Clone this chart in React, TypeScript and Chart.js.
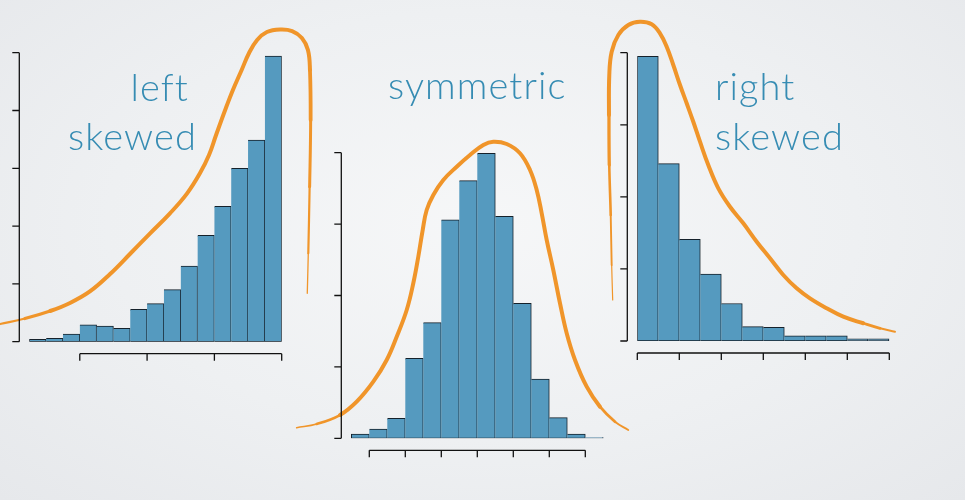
import React, { useEffect, useRef } from "react";
import { Chart, registerables } from "chart.js";

Chart.register(...registerables);

// ---------- Left skewed histogram ----------
const leftBinWidth = 0.05;
const leftBinMids = [0.275, 0.325, 0.375, 0.425, 0.475, 0.525, 0.575, 0.625, 0.675, 0.725, 0.775, 0.825, 0.875, 0.925, 0.975];
const leftCounts = [4, 6, 13, 29, 27, 23, 56, 66, 90, 131, 184, 234, 300, 349, 494];
const leftXTicks = [0.4, 0.6, 0.8, 1.0];
const leftYTicks = [0, 100, 200, 300, 400, 500];
const leftCurveX = [0.163, 0.237, 0.312, 0.371, 0.43, 0.49, 0.549, 0.609, 0.668, 0.719, 0.757, 0.784, 0.805, 0.832, 0.855, 0.881, 0.903, 0.927, 0.956, 0.995, 1.031, 1.06, 1.078, 1.084, 1.086, 1.083, 1.079, 1.076];
const leftCurveY = [30.6, 40.1, 53.1, 67.0, 86.9, 117.1, 151.7, 187.5, 222.1, 256.7, 291.3, 323.0, 357.6, 400.9, 435.5, 470.1, 499.5, 522.0, 535.8, 540.1, 537.5, 525.4, 504.7, 470.1, 383.6, 268.2, 152.9, 83.7];

// ---------- Symmetric histogram ----------
const midBinWidth = 0.5;
const midBinMids = [-3.25, -2.75, -2.25, -1.75, -1.25, -0.75, -0.25, 0.25, 0.75, 1.25, 1.75, 2.25, 2.75, 3.25];
const midCounts = [6, 13, 28, 112, 162, 306, 361, 399, 311, 189, 83, 29, 6, 1];
const midXTicks = [-3, -2, -1, 0, 1, 2, 3];
const midYTicks = [0, 100, 200, 300, 400];
const midCurveX = [-5.017, -4.461, -3.814, -3.35, -2.889, -2.517, -2.239, -1.961, -1.778, -1.639, -1.517, -1.406, -1.222, -0.944, -0.572, -0.203, 0.167, 0.444, 0.817, 1.186, 1.464, 1.65, 1.789, 1.928, 2.111, 2.297, 2.483, 2.714, 3.039, 3.408, 3.825, 4.194];
const midCurveY = [14.8, 20.0, 32.6, 51.3, 79.3, 109.7, 142.3, 179.7, 217.1, 254.3, 291.7, 319.7, 340.8, 361.8, 380.4, 396.8, 410.8, 415.4, 412.2, 399.2, 375.8, 347.8, 315.1, 277.7, 235.7, 189.1, 147.1, 109.7, 72.3, 44.3, 23.2, 11.6];

// ---------- Right skewed histogram ----------
const rightBinWidth = 0.5;
const rightBinMids = [0.25, 0.75, 1.25, 1.75, 2.25, 2.75, 3.25, 3.75, 4.25, 4.75, 5.25, 5.75];
const rightCounts = [395, 246, 141, 93, 52, 20, 19, 7, 7, 7, 3, 3];
const rightXTicks = [0, 1, 2, 3, 4, 5, 6];
const rightYTicks = [0, 100, 200, 300, 400];
const rightCurveX = [-0.586, -0.61, -0.633, -0.667, -0.674, -0.667, -0.61, -0.452, -0.214, 0.064, 0.343, 0.54, 0.7, 0.857, 1.017, 1.176, 1.333, 1.493, 1.69, 1.929, 2.207, 2.524, 2.843, 3.16, 3.476, 3.795, 4.112, 4.51, 4.905, 5.381, 5.779, 6.136];
const rightCurveY = [56.9, 105.4, 174.8, 244.2, 313.5, 369.0, 401.4, 424.5, 438.4, 443.0, 439.4, 426.9, 408.3, 382.9, 355.2, 329.8, 304.2, 276.5, 244.2, 211.8, 186.3, 163.3, 137.8, 114.7, 91.6, 73.1, 59.2, 45.4, 33.7, 24.6, 17.6, 12.9];

// ---------- Labels ----------
const labels = [
  { text: "left", x: 189, y: 101, anchor: "end" },
  { text: "skewed", x: 197, y: 150, anchor: "end" },
  { text: "symmetric", x: 388, y: 98.5, anchor: "start" },
  { text: "right", x: 715, y: 100, anchor: "start" },
  { text: "skewed", x: 715, y: 150, anchor: "start" },
];

const BAR_FILL = "#559abf";
const BAR_EDGE = "#15212b";
const CURVE = "#f0952a";
const AXIS = "#111111";
const TEXT = "#368cb3";

const rAxesPlugin = {
  id: "rAxes",
  afterDraw(chart: any, _args: any, opts: any) {
    const { ctx, chartArea } = chart;
    const xs = chart.scales.x;
    const ys = chart.scales.y;
    const ax = xs.getPixelForValue(opts.xStart) - opts.yGap;
    const ay = chartArea.bottom + opts.xGap;
    ctx.save();
    ctx.strokeStyle = AXIS;
    ctx.lineWidth = 1.3;
    ctx.beginPath();
    const yp = opts.yTicks.map((v: number) => ys.getPixelForValue(v));
    ctx.moveTo(ax, Math.min(...yp));
    ctx.lineTo(ax, Math.max(...yp));
    yp.forEach((p: number) => {
      ctx.moveTo(ax, p);
      ctx.lineTo(ax - opts.tickLen, p);
    });
    const xp = opts.xTicks.map((v: number) => xs.getPixelForValue(v));
    ctx.moveTo(Math.min(...xp), ay);
    ctx.lineTo(Math.max(...xp), ay);
    xp.forEach((p: number) => {
      ctx.moveTo(p, ay);
      ctx.lineTo(p, ay + opts.tickLen);
    });
    ctx.stroke();
    ctx.restore();
  },
};

type Spec = {
  mids: number[];
  counts: number[];
  bin: number;
  cx: number[];
  cy: number[];
  xTicks: number[];
  yTicks: number[];
  xMin: number;
  xMax: number;
  pad: { left: number; right: number; top: number; bottom: number };
  head: number[];
  tail: number[];
};

function Hist({ spec }: { spec: Spec }) {
  const ref = useRef<HTMLCanvasElement>(null);
  useEffect(() => {
    if (!ref.current) return;
    const nSeg = spec.cx.length - 1;
    const segWidth = (i: number) => {
      if (i < spec.head.length) return spec.head[i];
      const fromEnd = nSeg - 1 - i;
      if (fromEnd < spec.tail.length) return spec.tail[spec.tail.length - 1 - fromEnd];
      return 4;
    };
    const chart = new Chart(ref.current, {
      type: "bar",
      data: {
        datasets: [
          {
            type: "line",
            data: spec.cx.map((x, i) => ({ x, y: spec.cy[i] })),
            borderColor: CURVE,
            borderWidth: 4,
            borderCapStyle: "round",
            borderJoinStyle: "round",
            pointRadius: 0,
            tension: 0.4,
            clip: false,
            order: 0,
            segment: { borderWidth: (c: any) => segWidth(c.p0DataIndex) },
          } as any,
          {
            type: "bar",
            data: spec.mids.map((x, i) => ({ x, y: spec.counts[i] })),
            backgroundColor: BAR_FILL,
            borderColor: BAR_EDGE,
            borderWidth: 1,
            borderSkipped: (c: any) => (c.dataIndex === 0 ? false : "left"),
            barPercentage: 1,
            categoryPercentage: 1,
            order: 1,
          } as any,
        ],
      },
      options: {
        animation: false,
        responsive: false,
        devicePixelRatio: 1,
        layout: { padding: spec.pad },
        elements: { line: { capBezierPoints: false } },
        plugins: {
          legend: { display: false },
          tooltip: { enabled: false },
          rAxes: {
            xTicks: spec.xTicks,
            yTicks: spec.yTicks,
            xStart: spec.mids[0] - spec.bin / 2,
            yGap: 10,
            xGap: 12,
            tickLen: 7,
          },
        } as any,
        scales: {
          x: {
            type: "linear",
            display: false,
            offset: false,
            min: spec.xMin,
            max: spec.xMax,
            ticks: { stepSize: spec.bin, maxTicksLimit: 100 },
          },
          y: {
            type: "linear",
            display: false,
            min: spec.yTicks[0],
            max: spec.yTicks[spec.yTicks.length - 1],
          },
        },
      },
      plugins: [rAxesPlugin],
    });
    return () => chart.destroy();
  }, [spec]);
  return (
    <canvas
      ref={ref}
      width={965}
      height={500}
      style={{ position: "absolute", left: 0, top: 0, width: 965, height: 500 }}
    />
  );
}

const specs: Spec[] = [
  {
    mids: leftBinMids, counts: leftCounts, bin: leftBinWidth, cx: leftCurveX, cy: leftCurveY,
    xTicks: leftXTicks, yTicks: leftYTicks, xMin: 0.25, xMax: 1.0,
    pad: { left: 29.3, right: 683.3, top: 52.7, bottom: 158.3 },
    head: [2.2, 3.2], tail: [3.8, 3, 2.2, 1.3],
  },
  {
    mids: midBinMids, counts: midCounts, bin: midBinWidth, cx: midCurveX, cy: midCurveY,
    xTicks: midXTicks, yTicks: midYTicks, xMin: -5.5, xMax: 4.5,
    pad: { left: 279.3, right: 325.7, top: 152.7, bottom: 61.7 },
    head: [1.6, 2.6], tail: [2.8, 1.8],
  },
  {
    mids: rightBinMids, counts: rightCounts, bin: rightBinWidth, cx: rightCurveX, cy: rightCurveY,
    xTicks: rightXTicks, yTicks: rightYTicks, xMin: 0, xMax: 6,
    pad: { left: 637.3, right: 75.7, top: 52.7, bottom: 159 },
    head: [1.2, 1.9, 2.6, 3.3], tail: [2.8, 2],
  },
];

export default function App() {
  return (
    <div
      style={{
        position: "absolute",
        left: 0,
        top: 0,
        width: 965,
        height: 500,
        overflow: "hidden",
        background: "radial-gradient(ellipse at 50% 45%, #f6f7f8 0%, #eef0f2 55%, #e6e8eb 100%)",
      }}
    >
      {specs.map((s, i) => (
        <Hist key={i} spec={s} />
      ))}
      <svg width={965} height={500} style={{ position: "absolute", left: 0, top: 0 }}>
        {labels.map((l, i) => (
          <text
            key={i}
            x={l.x}
            y={l.y}
            fill={TEXT}
            textAnchor={l.anchor}
            style={{
              fontFamily: "Lato, 'Open Sans', sans-serif",
              fontWeight: 300,
              fontSize: 38,
              letterSpacing: 1.1,
            }}
          >
            {l.text}
          </text>
        ))}
      </svg>
    </div>
  );
}
